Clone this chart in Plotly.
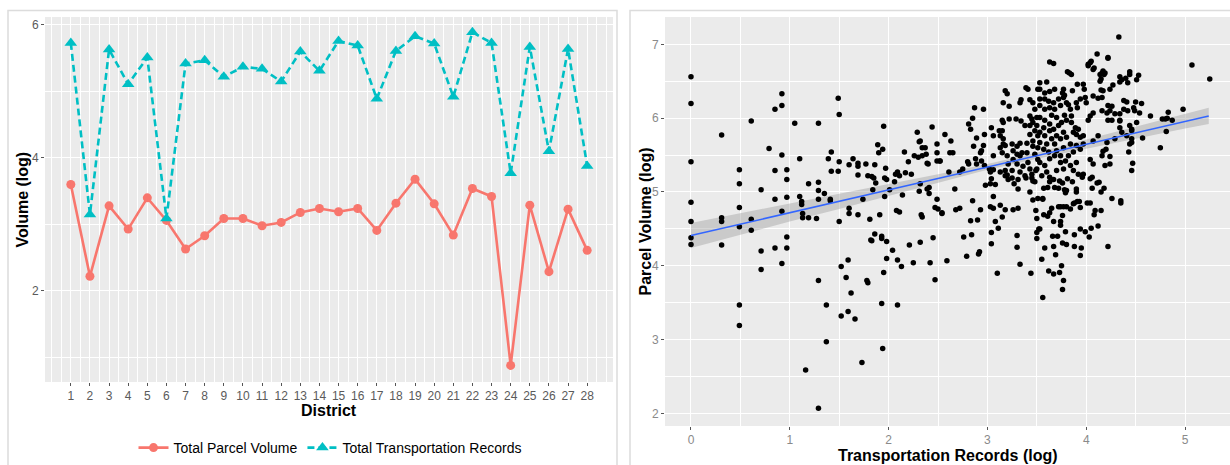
import plotly.graph_objects as go

# ---- District series (log scale volumes) ----
districts = list(range(1, 29))
parcel_volume_log = [3.60, 2.22, 3.28, 2.93, 3.40, 3.06, 2.63, 2.83, 3.09, 3.09,
                     2.98, 3.03, 3.18, 3.24, 3.19, 3.24, 2.91, 3.32, 3.68, 3.31,
                     2.84, 3.54, 3.42, 0.88, 3.29, 2.29, 3.23, 2.61]
transport_records_log = [5.73, 3.15, 5.63, 5.11, 5.51, 3.09, 5.42, 5.47, 5.22, 5.37,
                         5.34, 5.15, 5.60, 5.31, 5.76, 5.69, 4.89, 5.61, 5.83, 5.72,
                         4.92, 5.89, 5.73, 3.77, 5.67, 4.10, 5.64, 3.88]

# ---- Parcel volume vs transportation records, one pair per area ----
records_parcel_pairs = [
    (0, 6.56), (0, 6.20), (0, 5.41), (0, 4.86), (0, 4.60), (0, 4.38), (0, 4.29),
    (0.31, 5.77), (0.31, 4.65), (0.31, 4.60), (0.31, 4.28),
    (0.49, 5.30), (0.49, 5.11), (0.49, 4.79), (0.49, 4.53), (0.49, 3.47), (0.49, 3.19),
    (0.61, 5.96), (0.61, 4.63), (0.61, 4.48),
    (0.71, 5.03), (0.71, 4.20), (0.71, 3.95), (0.79, 5.59),
    (0.85, 6.12), (0.85, 5.29), (0.85, 4.90), (0.85, 4.24),
    (0.92, 6.33), (0.92, 6.17), (0.92, 5.50), (0.92, 4.74), (0.92, 4.03),
    (0.97, 5.30), (0.97, 5.17), (0.97, 4.93), (0.97, 4.39), (0.97, 4.24),
    (1.05, 5.93), (1.10, 5.45), (1.10, 4.94), (1.12, 4.87), (1.12, 4.83), (1.13, 4.71),
    (1.13, 4.65), (1.16, 2.59), (1.19, 5.11), (1.19, 4.65), (1.27, 4.64),
    (1.29, 5.93), (1.29, 5.13), (1.29, 5.02), (1.29, 4.90), (1.29, 3.80), (1.29, 2.07),
    (1.35, 4.98), (1.37, 3.47), (1.37, 2.97), (1.39, 5.45), (1.41, 4.90), (1.41, 4.88),
    (1.42, 5.54), (1.42, 5.28), (1.49, 6.27), (1.50, 6.05), (1.50, 5.41), (1.49, 5.28),
    (1.50, 4.60), (1.52, 3.99), (1.52, 3.32), (1.57, 3.84), (1.59, 4.08), (1.59, 3.38),
    (1.60, 5.37), (1.60, 4.78), (1.60, 4.71), (1.62, 3.63), (1.64, 5.45), (1.66, 3.28),
    (1.69, 5.39), (1.69, 5.35), (1.69, 5.23), (1.69, 4.69), (1.73, 2.69), (1.74, 4.90),
    (1.77, 5.38), (1.78, 3.80), (1.79, 3.77), (1.79, 5.22), (1.81, 4.63), (1.82, 4.35),
    (1.83, 5.21), (1.83, 4.34), (1.84, 5.03), (1.85, 5.19), (1.86, 5.37), (1.86, 4.43),
    (1.87, 5.12), (1.89, 5.64), (1.90, 5.53), (1.91, 4.69), (1.93, 4.40), (1.93, 4.37),
    (1.93, 3.49), (1.94, 5.58), (1.94, 2.88), (1.95, 5.89), (1.95, 3.91), (1.96, 5.19),
    (1.96, 4.94), (1.97, 5.32), (1.98, 5.17), (1.98, 4.10), (1.98, 4.33), (2.01, 5.03),
    (2.04, 4.21), (2.06, 5.14), (2.07, 5.24), (2.08, 4.75), (2.09, 5.27), (2.09, 4.08),
    (2.09, 3.47), (2.11, 5.22), (2.11, 4.73), (2.13, 3.99), (2.14, 4.96), (2.16, 5.54),
    (2.17, 5.26), (2.20, 5.41), (2.21, 4.28), (2.23, 5.24), (2.25, 4.04), (2.26, 5.49),
    (2.29, 5.81), (2.30, 5.47), (2.31, 5.68), (2.31, 5.01), (2.32, 4.32), (2.32, 5.69),
    (2.32, 5.11), (2.33, 4.69), (2.34, 4.66), (2.34, 5.60), (2.34, 5.49), (2.37, 5.60),
    (2.38, 5.51), (2.39, 5.39), (2.40, 5.38), (2.39, 5.04), (2.41, 5.06), (2.41, 4.98),
    (2.42, 4.04), (2.44, 5.88), (2.45, 4.38), (2.47, 3.81), (2.47, 4.79), (2.49, 5.42),
    (2.49, 5.53), (2.49, 5.65), (2.49, 4.90), (2.50, 4.77), (2.52, 5.42), (2.52, 5.42),
    (2.54, 4.72), (2.54, 4.71),
    (2.57, 5.78), (2.59, 4.07), (2.61, 5.27), (2.62, 5.53), (2.63, 5.69), (2.65, 5.53),
    (2.67, 5.04), (2.68, 4.76), (2.72, 4.78), (2.72, 5.27), (2.75, 5.31), (2.76, 4.39),
    (2.79, 4.13), (2.80, 5.41), (2.81, 5.92), (2.81, 5.38), (2.83, 5.85), (2.83, 4.61),
    (2.84, 4.42), (2.85, 6.00), (2.85, 4.88), (2.86, 5.62), (2.87, 6.14), (2.88, 5.45),
    (2.89, 5.73), (2.89, 5.38), (2.90, 4.62), (2.91, 4.16), (2.92, 4.19), (2.93, 5.53),
    (2.93, 4.76), (2.94, 5.56), (2.94, 5.42), (2.96, 6.12), (2.96, 5.63), (2.97, 5.78),
    (2.97, 5.36), (2.98, 5.09), (3.02, 5.31), (3.03, 5.27), (3.03, 5.11), (3.03, 4.80),
    (3.04, 5.87), (3.04, 5.18), (3.04, 4.45), (3.04, 4.30), (3.06, 5.76), (3.06, 5.49),
    (3.06, 5.30), (3.06, 4.94), (3.06, 4.78), (3.08, 5.10), (3.08, 4.60), (3.10, 3.90),
    (3.11, 4.51), (3.12, 5.83), (3.13, 5.76), (3.13, 5.60), (3.13, 5.27), (3.13, 4.82),
    (3.15, 5.97), (3.15, 5.83), (3.15, 5.53), (3.15, 4.66), (3.16, 5.94), (3.16, 6.21),
    (3.16, 5.72), (3.16, 5.65), (3.18, 6.37), (3.18, 5.63), (3.18, 5.29), (3.18, 5.22),
    (3.18, 4.76), (3.20, 6.33), (3.20, 5.49), (3.20, 5.23), (3.21, 5.38), (3.21, 5.17),
    (3.22, 6.16), (3.22, 5.99), (3.25, 5.65), (3.25, 5.29), (3.25, 5.19), (3.26, 5.56),
    (3.26, 5.44), (3.26, 4.76), (3.27, 5.11), (3.29, 5.99), (3.30, 5.62), (3.30, 5.51),
    (3.30, 5.38), (3.30, 4.41), (3.30, 4.25), (3.31, 5.17), (3.31, 5.04), (3.31, 4.78),
    (3.33, 6.21), (3.33, 5.66), (3.33, 5.49), (3.33, 5.27), (3.33, 4.02), (3.34, 6.25),
    (3.34, 5.96), (3.35, 5.53), (3.36, 5.35), (3.38, 5.90), (3.38, 5.22), (3.39, 6.41),
    (3.39, 5.19), (3.40, 5.66), (3.40, 5.53), (3.41, 6.39), (3.41, 5.40), (3.43, 6.25),
    (3.43, 6.03), (3.43, 5.90), (3.43, 5.78), (3.43, 5.31), (3.43, 5.00), (3.44, 3.90),
    (3.45, 5.99), (3.45, 5.24), (3.45, 5.19), (3.46, 6.21), (3.46, 5.94), (3.46, 5.69),
    (3.46, 5.62), (3.46, 5.15), (3.46, 4.89), (3.48, 6.12), (3.48, 5.83), (3.48, 5.51),
    (3.48, 5.14), (3.49, 5.29), (3.49, 4.75), (3.50, 6.01), (3.50, 5.90), (3.50, 5.31),
    (3.50, 4.64), (3.50, 4.45), (3.50, 4.37), (3.51, 6.39), (3.51, 5.76), (3.51, 5.60),
    (3.51, 5.44), (3.51, 4.91), (3.52, 4.50),
    (3.53, 6.48), (3.53, 6.39), (3.53, 6.26), (3.53, 6.17), (3.53, 6.01), (3.53, 5.81),
    (3.53, 5.67), (3.53, 5.40), (3.53, 4.50), (3.55, 5.22), (3.55, 4.09), (3.56, 4.91),
    (3.56, 4.90), (3.56, 3.57), (3.57, 5.87), (3.57, 5.58), (3.57, 5.05), (3.57, 4.69),
    (3.58, 6.34), (3.58, 6.26), (3.58, 6.12), (3.58, 5.97), (3.58, 5.76), (3.58, 5.36),
    (3.58, 4.24), (3.60, 6.49), (3.60, 5.65), (3.60, 5.27), (3.61, 5.06), (3.61, 4.67),
    (3.62, 6.23), (3.62, 5.54), (3.62, 3.93), (3.63, 6.76), (3.63, 6.36), (3.63, 6.14),
    (3.63, 5.92), (3.63, 5.83), (3.63, 5.45), (3.63, 5.20), (3.63, 5.14), (3.63, 4.72),
    (3.65, 6.04), (3.65, 5.72), (3.65, 4.78), (3.66, 4.40), (3.67, 6.74), (3.67, 6.21),
    (3.67, 5.85), (3.67, 5.17), (3.67, 4.60), (3.67, 4.26), (3.67, 3.89), (3.68, 6.39),
    (3.68, 6.12), (3.68, 5.65), (3.68, 5.49), (3.68, 5.06), (3.69, 4.15), (3.70, 6.01),
    (3.70, 5.76), (3.70, 5.56), (3.70, 5.29), (3.71, 4.40), (3.72, 6.26), (3.72, 5.90),
    (3.72, 5.05), (3.72, 4.80), (3.73, 5.15), (3.73, 3.91), (3.74, 6.17), (3.74, 5.72),
    (3.74, 5.49), (3.74, 5.40), (3.74, 4.80), (3.74, 4.60), (3.74, 4.55), (3.75, 5.94),
    (3.75, 4.00), (3.76, 6.34), (3.76, 5.12), (3.76, 4.68), (3.76, 4.31), (3.76, 3.68),
    (3.77, 6.39), (3.77, 6.28), (3.77, 5.81), (3.77, 5.60), (3.77, 5.31), (3.77, 4.80),
    (3.77, 3.80), (3.78, 6.31), (3.78, 6.04), (3.78, 5.03), (3.79, 5.42), (3.79, 4.99),
    (3.79, 4.46), (3.80, 6.21), (3.80, 5.97), (3.80, 5.74), (3.80, 5.02), (3.80, 4.80),
    (3.80, 4.29), (3.81, 6.63), (3.81, 5.18), (3.82, 6.18), (3.82, 5.49), (3.83, 6.61),
    (3.84, 6.12), (3.84, 5.65), (3.84, 5.36), (3.84, 4.77), (3.85, 6.59), (3.85, 6.03),
    (3.85, 5.94), (3.86, 6.37), (3.86, 5.14), (3.87, 5.81), (3.87, 5.54), (3.87, 5.29),
    (3.87, 4.84), (3.88, 4.85), (3.88, 4.42), (3.88, 4.26), (3.89, 5.87), (3.90, 6.21),
    (3.90, 5.78), (3.90, 5.63), (3.90, 5.40), (3.90, 5.04), (3.90, 5.00), (3.91, 6.46),
    (3.91, 6.14), (3.91, 4.87), (3.92, 5.85), (3.92, 5.24), (3.93, 4.87), (3.94, 6.26),
    (3.94, 5.74), (3.94, 5.58), (3.94, 4.79), (3.94, 4.50), (3.94, 4.14), (3.95, 4.24),
    (3.96, 5.20), (3.97, 6.46), (3.97, 5.76), (3.97, 5.65), (3.97, 5.24), (3.98, 6.39),
    (3.99, 6.28), (3.99, 4.46), (4.00, 6.21), (4.01, 4.85), (4.02, 6.71), (4.02, 6.73),
    (4.02, 5.97), (4.03, 4.39), (4.04, 6.75), (4.04, 6.03), (4.04, 5.44), (4.04, 5.18),
    (4.04, 4.85), (4.05, 6.77), (4.05, 4.51), (4.06, 5.20), (4.06, 5.05), (4.07, 6.66),
    (4.07, 6.30), (4.07, 6.07), (4.07, 5.69), (4.07, 5.38), (4.08, 6.68), (4.08, 4.69),
    (4.09, 4.75), (4.11, 6.87), (4.11, 5.12), (4.12, 6.27), (4.12, 5.76), (4.12, 4.54),
    (4.13, 5.13), (4.14, 6.50), (4.14, 6.59), (4.15, 6.53), (4.15, 6.38), (4.15, 5.00),
    (4.15, 4.75), (4.16, 6.28), (4.16, 6.10), (4.16, 6.61), (4.16, 5.49), (4.17, 6.64),
    (4.17, 6.37), (4.17, 5.55), (4.18, 6.59), (4.18, 5.05), (4.19, 6.61), (4.19, 5.36),
    (4.20, 5.58), (4.21, 6.07), (4.21, 5.67), (4.22, 6.82), (4.22, 6.81), (4.22, 6.17),
    (4.22, 5.97), (4.22, 4.26), (4.24, 6.39), (4.24, 6.10), (4.24, 5.48), (4.24, 5.38),
    (4.26, 6.16), (4.26, 5.97), (4.26, 4.91), (4.27, 6.45), (4.29, 6.06), (4.29, 5.72),
    (4.33, 7.10), (4.34, 6.56), (4.34, 6.49), (4.34, 6.06), (4.34, 5.97), (4.34, 5.96),
    (4.34, 5.87), (4.35, 4.88), (4.35, 4.85), (4.36, 6.52), (4.36, 5.81), (4.38, 6.24),
    (4.38, 6.12), (4.40, 6.54), (4.41, 6.22), (4.41, 5.76), (4.42, 6.48), (4.42, 6.10),
    (4.43, 5.54), (4.44, 6.63), (4.44, 6.59), (4.44, 5.90), (4.44, 5.65), (4.46, 5.85),
    (4.46, 5.83), (4.46, 5.72), (4.46, 5.67), (4.46, 5.29), (4.47, 5.39), (4.48, 6.14),
    (4.49, 6.10), (4.50, 6.22), (4.51, 6.52), (4.51, 5.94), (4.53, 6.58), (4.54, 6.07),
    (4.56, 6.20), (4.57, 5.73), (4.65, 6.03), (4.75, 5.60), (4.77, 5.99), (4.80, 5.99),
    (4.81, 5.82), (4.82, 6.00), (4.83, 6.08), (4.87, 5.97), (4.98, 6.12), (5.07, 6.72),
    (5.25, 6.53),
]
transport_log = [p[0] for p in records_parcel_pairs]
parcel_log = [p[1] for p in records_parcel_pairs]

# Linear fit of parcel volume on transportation records, with 95% band
fit_x = [0, 0.5, 1, 1.5, 2, 2.5, 3, 3.5, 4, 4.5, 5, 5.24]
fit_y = [4.41, 4.565, 4.72, 4.87, 5.03, 5.18, 5.34, 5.49, 5.65, 5.80, 5.96, 6.03]
fit_lo = [4.24, 4.42, 4.60, 4.77, 4.95, 5.12, 5.30, 5.45, 5.59, 5.72, 5.86, 5.92]
fit_hi = [4.58, 4.71, 4.84, 4.97, 5.10, 5.24, 5.38, 5.53, 5.71, 5.88, 6.06, 6.14]

RED = "#F8766D"
TEAL = "#00BFC4"
PANEL = "#EBEBEB"
W, H = 1230, 465


def px_x(v):
    return v / W


def px_y(v):
    return 1 - v / H


fig = go.Figure()

fig.add_trace(go.Scatter(
    x=districts, y=parcel_volume_log, name="Total Parcel Volume",
    mode="lines+markers", line=dict(color=RED, width=2.6),
    marker=dict(symbol="circle", size=9, color=RED),
    xaxis="x", yaxis="y",
))
fig.add_trace(go.Scatter(
    x=districts, y=transport_records_log, name="Total Transportation Records",
    mode="lines+markers", line=dict(color=TEAL, width=2.6, dash="7px,4px"),
    marker=dict(symbol="triangle-up", size=11, color=TEAL),
    xaxis="x", yaxis="y",
))

# Confidence band and fitted line
fig.add_trace(go.Scatter(
    x=fit_x + fit_x[::-1], y=fit_hi + fit_lo[::-1], fill="toself",
    fillcolor="rgba(153,153,153,0.4)", line=dict(width=0), mode="lines",
    hoverinfo="skip", showlegend=False, xaxis="x2", yaxis="y2",
))
fig.add_trace(go.Scatter(
    x=transport_log, y=parcel_log, mode="markers",
    marker=dict(size=5.5, color="black"), showlegend=False,
    xaxis="x2", yaxis="y2",
))
fig.add_trace(go.Scatter(
    x=fit_x, y=fit_y, mode="lines", line=dict(color="#3366FF", width=1.5),
    showlegend=False, xaxis="x2", yaxis="y2",
))

axis_common = dict(
    showline=False, zeroline=False, ticks="outside", ticklen=3,
    tickcolor="#555555", gridcolor="white", gridwidth=1.3,
)
left_tick_font = dict(family="Liberation Sans, Arial", size=12, color="#5a5a5a")
right_tick_font = dict(family="Liberation Sans, Arial", size=12, color="#8a8a8a")

fig.update_layout(
    width=W, height=H, margin=dict(l=0, r=0, t=0, b=0),
    paper_bgcolor="white", plot_bgcolor=PANEL,
    font=dict(family="Liberation Sans, Arial", color="black"),
    xaxis=dict(
        domain=[px_x(45), px_x(613)], range=[-0.35, 29.35],
        tickmode="array", tickvals=districts, ticktext=[str(d) for d in districts],
        minor=dict(dtick=0.5, tick0=0, gridcolor="white", gridwidth=0.6, showgrid=True),
        anchor="y", tickfont=left_tick_font, **axis_common,
    ),
    yaxis=dict(
        domain=[px_y(382), px_y(17)], range=[0.63, 6.12],
        tickmode="array", tickvals=[2, 4, 6],
        minor=dict(dtick=1, tick0=0, gridcolor="white", gridwidth=0.6, showgrid=True),
        anchor="x", tickfont=left_tick_font, **axis_common,
    ),
    xaxis2=dict(
        domain=[px_x(665), 1.0], range=[-0.263, 5.455],
        tickmode="array", tickvals=[0, 1, 2, 3, 4, 5],
        minor=dict(dtick=0.5, tick0=0, gridcolor="white", gridwidth=0.6, showgrid=True),
        anchor="y2", tickfont=right_tick_font, **axis_common,
    ),
    yaxis2=dict(
        domain=[px_y(426), px_y(17)], range=[1.83, 7.37],
        tickmode="array", tickvals=[2, 3, 4, 5, 6, 7],
        minor=dict(dtick=0.5, tick0=0, gridcolor="white", gridwidth=0.6, showgrid=True),
        anchor="x2", tickfont=right_tick_font, **axis_common,
    ),
    legend=dict(
        orientation="h", x=px_x(330), xanchor="center", y=px_y(448), yanchor="middle",
        font=dict(size=14, color="black"), itemwidth=30, bgcolor="rgba(0,0,0,0)",
        tracegroupgap=0,
    ),
    showlegend=True,
)

# Panel frames
for x0, x1 in [(8, 617), (630, 1236)]:
    fig.add_shape(type="rect", xref="paper", yref="paper",
                  x0=px_x(x0), x1=px_x(x1), y0=px_y(470), y1=px_y(10.5),
                  line=dict(color="#dcdcdc", width=1.5), fillcolor="rgba(0,0,0,0)",
                  layer="below")

title_font = dict(family="Liberation Sans, Arial", size=16, color="black")
titles = [
    ("<b>District</b>", px_x(329), px_y(410), 0),
    ("<b>Volume (log)</b>", px_x(22), px_y(199.5), -90),
    ("<b>Transportation Records (log)</b>", px_x(948), px_y(455), 0),
    ("<b>Parcel Volume (log)</b>", px_x(645), px_y(221.5), -90),
]
for text, x, y, ang in titles:
    fig.add_annotation(text=text, x=x, y=y, xref="paper", yref="paper",
                       showarrow=False, textangle=ang, font=title_font,
                       xanchor="center", yanchor="middle")

fig.write_html("out.html")
